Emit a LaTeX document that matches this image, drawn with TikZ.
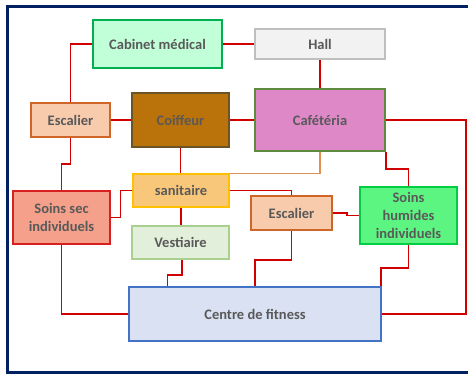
\documentclass[tikz,border=0pt]{standalone}
\usepackage{fontspec}
\setmainfont{Carlito}
\definecolor{txt}{HTML}{595959}
\definecolor{wire}{HTML}{D00000}
\definecolor{navy}{HTML}{002060}
\definecolor{cabF}{HTML}{C0FFD8}\definecolor{cabD}{HTML}{00B050}
\definecolor{hallF}{HTML}{F2F2F2}\definecolor{hallD}{HTML}{BFBFBF}
\definecolor{escF}{HTML}{F8CBAD}\definecolor{escD}{HTML}{D0652A}
\definecolor{coifF}{HTML}{BA720A}\definecolor{coifD}{HTML}{6B5525}
\definecolor{cafF}{HTML}{DE88C8}\definecolor{cafD}{HTML}{5E8A40}
\definecolor{sanF}{HTML}{F9C77A}\definecolor{sanD}{HTML}{FFC000}
\definecolor{vestF}{HTML}{E2EFDA}\definecolor{vestD}{HTML}{A9D08E}
\definecolor{ssecF}{HTML}{F4A08A}\definecolor{ssecD}{HTML}{D82020}
\definecolor{shumF}{HTML}{5CF582}\definecolor{shumD}{HTML}{00CC44}
\definecolor{fitF}{HTML}{D9E1F2}\definecolor{fitD}{HTML}{4472C4}
\definecolor{orwire}{HTML}{E09050}
\tikzset{
  box/.style={draw, line width=1.5pt, inner sep=0pt, align=center,
    font=\fontsize{14.5}{17.7}\selectfont\bfseries, text=txt},
  wirel/.style={draw=wire, line width=1.5pt},
}
\begin{document}
\begin{tikzpicture}[x=1pt,y=-1pt]
\useasboundingbox (0,0) rectangle (468,376);
\draw[navy, line width=3pt] (7.5,6) rectangle (480,372);
% nodes
\node[box, fill=cabF, draw=cabD, minimum width=129, minimum height=48] (cab) at (157.5,44) {Cabinet médical};
\node[box, fill=hallF, draw=hallD, minimum width=130, minimum height=30] (hall) at (320,44) {Hall};
\node[box, fill=escF, draw=escD, minimum width=79, minimum height=34] (esc1) at (70.5,120) {Escalier};
\node[box, fill=coifF, draw=coifD, minimum width=97, minimum height=54] (coif) at (180.5,120) {Coiffeur};
\node[box, fill=cafF, draw=cafD, minimum width=130, minimum height=62] (caf) at (320,120) {Cafétéria};
\node[box, fill=sanF, draw=sanD, minimum width=96, minimum height=33] (san) at (181,190.5) {sanitaire};
\node[box, fill=vestF, draw=vestD, minimum width=97, minimum height=33] (vest) at (180.5,242.5) {Vestiaire};
\node[box, fill=ssecF, draw=ssecD, minimum width=97, minimum height=53] (ssec) at (61.5,217.5) {Soins sec\\individuels};
\node[box, fill=escF, draw=escD, minimum width=81, minimum height=34] (esc2) at (291.5,213) {Escalier};
\node[box, fill=shumF, draw=shumD, minimum width=97, minimum height=57] (shum) at (408.5,215.5) {Soins\\humides\\individuels};
\node[box, fill=fitF, draw=fitD, minimum width=252, minimum height=54] (fit) at (255,314) {Centre de fitness};
% connectors
\coordinate (rr) at (466,120);
\path[wirel] (cab.west) -| (esc1.north);
\path[wirel] (cab.east) -- (hall.west);
\path[wirel] (hall.south) -- (caf.north);
\path[wirel] (esc1.east) -- (coif.west);
\path[wirel] (coif.east) -- (caf.west);
\path[wirel] (caf.east) -- (rr) |- (fit.east);
\path[wirel] (caf.south east) -- ++(0,17) -| (shum.north);
\draw[draw=orwire, line width=1.5pt] (caf.south) |- (san.north east);
\path[wirel] (coif.south) -- (coif.south |- san.north);
\path[wirel] (esc1.south) -- ++(0,26) -| (ssec.north);
\path[wirel] (san.west) -- ++(-12,0) |- (ssec.east);
\path[wirel] (san.east) -| (esc2.north);
\path[wirel] (san.south) -- (san.south |- vest.north);
\path[wirel] ([xshift=1.5]vest.south) -- ++(0,15) -| ([xshift=39]fit.north west);
\path[wirel] (esc2.south) -- ++(0,29) -| (fit.north);
\path[wirel] (esc2.east) -- ++(14,0) |- (shum.west);
\path[wirel] (shum.south) -- ++(0,23) -| ([xshift=-1]fit.north east);
\path[wirel] (ssec.south) |- (fit.west);
\end{tikzpicture}
\end{document}
